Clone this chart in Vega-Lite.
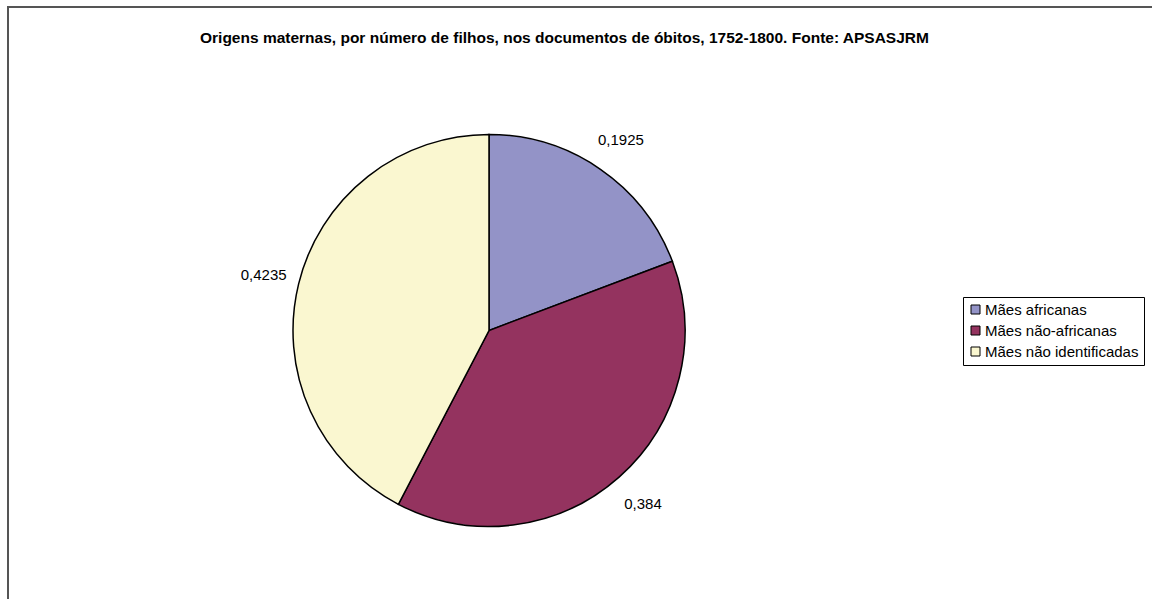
{
  "$schema": "https://vega.github.io/schema/vega-lite/v6.json",
  "autosize": {"type": "none"},
  "width": 1160,
  "height": 610,
  "padding": {"left": 8, "top": 7, "right": 0, "bottom": 0},
  "background": "white",
  "view": {"stroke": "#555555", "strokeWidth": 2, "fill": "white"},
  "title": {
    "text": "Origens maternas, por número de filhos, nos documentos de óbitos, 1752-1800. Fonte: APSASJRM",
    "font": "Liberation Sans",
    "fontSize": 15.5,
    "fontWeight": "bold",
    "color": "black",
    "anchor": "start",
    "dx": 192,
    "dy": 43
  },
  "data": {
    "values": [
      {"origem": "Mães africanas", "valor": 0.1925, "ordem": 1},
      {"origem": "Mães não-africanas", "valor": 0.384, "ordem": 2},
      {"origem": "Mães não identificadas", "valor": 0.4235, "ordem": 3}
    ]
  },
  "encoding": {
    "theta": {"field": "valor", "type": "quantitative", "stack": true},
    "order": {"field": "ordem", "type": "quantitative"},
    "color": {
      "field": "origem",
      "type": "nominal",
      "sort": null,
      "scale": {
        "domain": ["Mães africanas", "Mães não-africanas", "Mães não identificadas"],
        "range": ["#9393C7", "#94335F", "#FAF7D0"]
      },
      "legend": {
        "title": null,
        "orient": "none",
        "legendX": 955,
        "legendY": 290,
        "symbolType": "square",
        "symbolSize": 81,
        "symbolStrokeColor": "black",
        "symbolStrokeWidth": 1,
        "symbolOpacity": 1,
        "labelFont": "Liberation Sans",
        "labelFontSize": 15,
        "labelColor": "black",
        "labelOffset": 2,
        "rowPadding": 5,
        "padding": 5,
        "strokeColor": "black",
        "fillColor": "white"
      }
    }
  },
  "layer": [
    {
      "mark": {"type": "arc", "x": 481, "y": 323.5, "outerRadius": 196, "stroke": "black", "strokeWidth": 1.5}
    },
    {
      "mark": {"type": "text", "x": 481, "y": 323.5, "radius": 232, "font": "Liberation Sans", "fontSize": 15, "color": "black", "align": "center", "baseline": "middle"},
      "encoding": {
        "text": {"field": "valor", "type": "quantitative", "format": ".4~f"},
        "color": {"value": "black"}
      }
    }
  ],
  "config": {
    "view": {"stroke": "#555555", "strokeWidth": 2},
    "locale": {"number": {"decimal": ",", "thousands": ".", "grouping": [3], "currency": ["", ""]}}
  }
}
